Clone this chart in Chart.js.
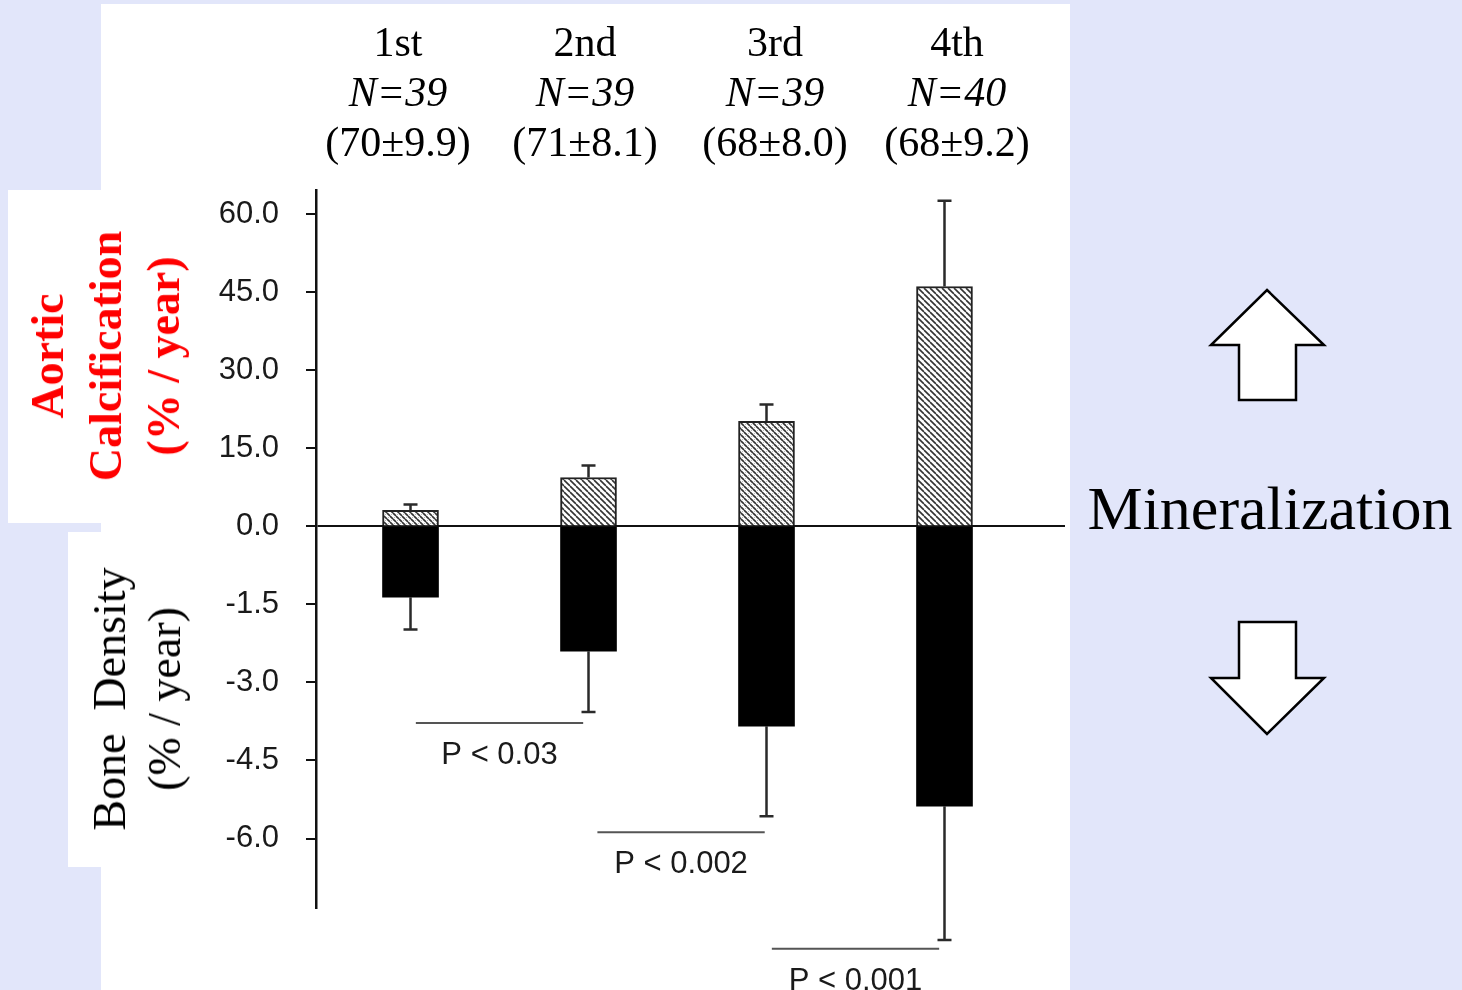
<!DOCTYPE html>
<html>
<head>
<meta charset="utf-8">
<script src="https://cdn.jsdelivr.net/npm/chart.js@4.4.1/dist/chart.umd.min.js"></script>
<style>
  body { margin: 0; background: #e2e6fa; width: 1462px; height: 990px; overflow: hidden; position: relative; font-family: "Liberation Serif", serif; }
  .box { position: absolute; background: #fff; }
  #chart { position: absolute; left: 0; top: 0; }
  .lbl { position: absolute; white-space: pre; text-align: center; }
  .head { position: absolute; top: 17px; transform: translateX(-50%); font-size: 42px; line-height: 50px; text-align: center; color: #000; }
</style>
</head>
<body>
<div class="box" style="left:101px;top:4px;width:969px;height:986px"></div>
<div class="box" style="left:8px;top:190px;width:93px;height:333px"></div>
<div class="box" style="left:68px;top:532px;width:33px;height:335px"></div>

<canvas id="chart" width="1462" height="990"></canvas>

<div class="lbl" style="left:106px;top:356px;transform:translate(-50%,-50%) rotate(-90deg);font-weight:bold;font-size:46px;line-height:58px;color:#ff0000">Aortic
Calcification
(% / year)</div>
<div class="lbl" style="left:137px;top:699px;transform:translate(-50%,-50%) rotate(-90deg);font-size:46px;line-height:55px;color:#000">Bone  Density
(% / year)</div>
<div class="lbl" style="left:1270px;top:508px;transform:translate(-50%,-50%);font-size:62px;color:#000">Mineralization</div>

<svg style="position:absolute;left:0;top:0" width="1462" height="990">
  <polygon points="1267,290 1324,345 1296,345 1296,400 1239,400 1239,345 1211,345" fill="#fff" stroke="#000" stroke-width="2.5"/>
  <polygon points="1239,622 1296,622 1296,678 1324,678 1267,734 1211,678 1239,678" fill="#fff" stroke="#000" stroke-width="2.5"/>
</svg>

<div id="heads"></div>

<script>
// quartile groups and header text
const groups = ['1st', '2nd', '3rd', '4th'];
const groupN = ['N=39', 'N=39', 'N=39', 'N=40'];
const groupAge = ['(70±9.9)', '(71±8.1)', '(68±8.0)', '(68±9.2)'];

// aortic calcification (% / year), mean and SD
const aorticMean = [3.1, 9.4, 20.2, 46.1];
const aorticSD = [1.1, 2.3, 3.2, 16.5];

// bone density (% / year), mean and SD
const boneMean = [-1.36, -2.40, -3.84, -5.38];
const boneSD = [0.62, 1.17, 1.73, 2.57];

// y tick labels (upper half in 15 % steps, lower half in 1.5 % steps)
const tickValues = [-6.0, -4.5, -3.0, -1.5, 0, 15, 30, 45, 60];

// significance bars under the bone density bars
const pTexts = ['P < 0.03', 'P < 0.002', 'P < 0.001'];
const pFrom = [1.03, 2.05, 3.03];
const pTo = [1.97, 2.99, 3.97];
const pLevel = [-3.78, -5.88, -8.12];

// each tick is one axis unit
const toAxis = v => v >= 0 ? v / 15 : v / 1.5;

const headX = [398, 585, 775, 957];
const heads = document.getElementById('heads');
groups.forEach((g, i) => {
  const d = document.createElement('div');
  d.className = 'head';
  d.style.left = headX[i] + 'px';
  d.innerHTML = g + '<br><i>' + groupN[i] + '</i><br>' + groupAge[i];
  heads.appendChild(d);
});

function makeHatch(cross) {
  const c = document.createElement('canvas');
  c.width = 6; c.height = 6;
  const g = c.getContext('2d');
  g.fillStyle = '#fff';
  g.fillRect(0, 0, 6, 6);
  g.strokeStyle = '#333';
  g.lineWidth = 1.6;
  for (let k = -6; k <= 6; k += 6) {
    g.beginPath(); g.moveTo(k, 0); g.lineTo(k + 6, 6); g.stroke();
  }
  if (cross) {
    g.strokeStyle = '#aaa';
    g.lineWidth = 0.8;
    for (let k = -6; k <= 6; k += 6) {
      g.beginPath(); g.moveTo(k + 6, 0); g.lineTo(k, 6); g.stroke();
    }
  }
  return g.createPattern(c, 'repeat');
}
const ctx0 = document.getElementById('chart').getContext('2d');
const hatchA = makeHatch(false);
const hatchB = makeHatch(true);

const extras = {
  id: 'extras',
  afterDatasetsDraw(chart) {
    const { ctx, scales: { x, y } } = chart;
    ctx.save();
    ctx.strokeStyle = '#2a2a2a';
    ctx.lineWidth = 2.5;
    groups.forEach((g, i) => {
      const px = x.getPixelForValue(i + 1);
      const pairs = [[aorticMean[i], aorticMean[i] + aorticSD[i]], [boneMean[i], boneMean[i] - boneSD[i]]];
      pairs.forEach(([m, e]) => {
        const y0 = y.getPixelForValue(toAxis(m));
        const y1 = y.getPixelForValue(toAxis(e));
        ctx.beginPath();
        ctx.moveTo(px, y0); ctx.lineTo(px, y1);
        ctx.moveTo(px - 7, y1); ctx.lineTo(px + 7, y1);
        ctx.stroke();
      });
    });
    ctx.strokeStyle = '#555';
    ctx.lineWidth = 2;
    ctx.fillStyle = '#1a1a1a';
    ctx.font = '31px "Liberation Sans", Arial, sans-serif';
    ctx.textAlign = 'center';
    ctx.textBaseline = 'alphabetic';
    pTexts.forEach((t, i) => {
      const x0 = x.getPixelForValue(pFrom[i]);
      const x1 = x.getPixelForValue(pTo[i]);
      const py = y.getPixelForValue(toAxis(pLevel[i]));
      ctx.beginPath();
      ctx.moveTo(x0, py); ctx.lineTo(x1, py);
      ctx.stroke();
      ctx.fillText(t, (x0 + x1) / 2, py + 41);
    });
    ctx.restore();
  }
};

new Chart(ctx0, {
  type: 'bar',
  data: {
    datasets: [
      {
        label: 'Aortic Calcification',
        data: groups.map((g, i) => ({ x: i + 1, y: toAxis(aorticMean[i]) })),
        backgroundColor: [hatchB, hatchA, hatchB, hatchA],
        borderColor: '#222',
        borderWidth: 2,
        barThickness: 56
      },
      {
        label: 'Bone Density',
        data: groups.map((g, i) => ({ x: i + 1, y: toAxis(boneMean[i]) })),
        backgroundColor: '#000',
        borderWidth: 0,
        barThickness: 56
      }
    ]
  },
  options: {
    responsive: false,
    animation: false,
    layout: { padding: { left: 0, right: 397, top: 190, bottom: 82 } },
    plugins: { legend: { display: false }, tooltip: { enabled: false } },
    scales: {
      x: {
        type: 'linear',
        min: 0.469,
        max: 4.677,
        offset: false,
        stacked: true,
        display: false
      },
      y: {
        stacked: true,
        min: -4.89,
        max: 4.31,
        afterBuildTicks: s => { s.ticks = tickValues.map(v => ({ value: toAxis(v) })); },
        afterFit: s => { s.width = 316; },
        ticks: {
          callback: (v, idx) => tickValues[idx].toFixed(1),
          color: '#1a1a1a',
          padding: 27,
          font: { family: '"Liberation Sans", Arial, sans-serif', size: 31 }
        },
        grid: {
          color: c => (c.tick && c.tick.value === 0) ? '#111' : 'rgba(0,0,0,0)',
          tickColor: '#111',
          lineWidth: 2,
          tickLength: 10
        },
        border: { color: '#111', width: 2.5 }
      }
    }
  },
  plugins: [extras]
});
</script>
</body>
</html>
